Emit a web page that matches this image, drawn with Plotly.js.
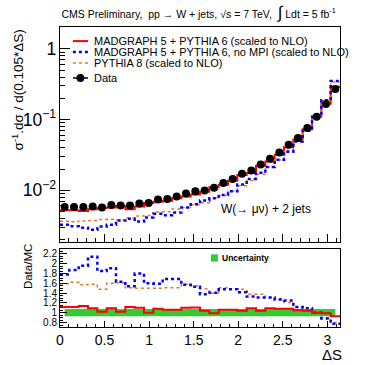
<!DOCTYPE html>
<html>
<head>
<meta charset="utf-8">
<script src="https://cdn.plot.ly/plotly-3.0.1.min.js"></script>
<style>
  html, body { margin: 0; padding: 0; background: #fff; }
  #graph { width: 382px; height: 365px; }
</style>
</head>
<body>
<div id="graph"></div>
<script>
// 30 bins of width pi/30 (~0.105) in delta S
const nBins = 30;
const xMax = Math.PI;

// data, normalised distribution
const dataVals = [0.0058, 0.0058, 0.0058, 0.0059, 0.0057, 0.0062, 0.0061, 0.0061, 0.0065, 0.0066,
                  0.0074, 0.0075, 0.0082, 0.0090, 0.0097, 0.0099, 0.0109, 0.0127, 0.0144, 0.0172,
                  0.0191, 0.0232, 0.0279, 0.0343, 0.044, 0.055, 0.076, 0.110, 0.166, 0.271];

// MADGRAPH 5 + PYTHIA 6
const mgVals = [0.0052, 0.0052, 0.0051, 0.0054, 0.0056, 0.0057, 0.0060, 0.0054, 0.0059, 0.0066,
                0.0069, 0.0071, 0.0077, 0.0082, 0.0087, 0.0095, 0.0110, 0.0120, 0.0136, 0.0165,
                0.0175, 0.0223, 0.0256, 0.0318, 0.0407, 0.0524, 0.0731, 0.110, 0.168, 0.291];

// MADGRAPH 5 + PYTHIA 6, no MPI
const noMpiVals = [0.00325, 0.0031, 0.00296, 0.00276, 0.00308, 0.00325, 0.00374, 0.00396, 0.00361, 0.00413,
                   0.00465, 0.00444, 0.00485, 0.00573, 0.00634, 0.00717, 0.00773, 0.00858, 0.00973, 0.0121,
                   0.0144, 0.0177, 0.0213, 0.0270, 0.0352, 0.0491, 0.0697, 0.110, 0.188, 0.350];

// PYTHIA 8
const py8Vals = [0.00365, 0.00358, 0.00369, 0.00373, 0.00385, 0.00388, 0.00379, 0.00404, 0.00433, 0.0044,
                 0.00493, 0.00497, 0.00543, 0.0057, 0.00626, 0.00664, 0.00779, 0.00841, 0.00973, 0.0116,
                 0.0138, 0.0168, 0.0213, 0.0268, 0.0364, 0.0491, 0.0717, 0.110, 0.187, 0.339];

// Data/MC ratios
const ratioMg = [1.12, 1.12, 1.14, 1.09, 1.02, 1.09, 1.02, 1.12, 1.10, 1.00,
                 1.08, 1.06, 1.06, 1.10, 1.11, 1.04, 0.99, 1.06, 1.06, 1.04,
                 1.09, 1.04, 1.09, 1.08, 1.08, 1.05, 1.04, 1.00, 0.99, 0.93];
const ratioNoMpi = [1.78, 1.87, 1.96, 2.14, 1.85, 1.91, 1.63, 1.54, 1.80, 1.60,
                    1.59, 1.69, 1.69, 1.57, 1.53, 1.38, 1.41, 1.48, 1.48, 1.42,
                    1.33, 1.31, 1.31, 1.27, 1.25, 1.12, 1.09, 1.00, 0.885, 0.775];
const ratioPy8 = [1.59, 1.62, 1.57, 1.58, 1.48, 1.60, 1.61, 1.51, 1.50, 1.50,
                  1.50, 1.51, 1.51, 1.58, 1.55, 1.49, 1.40, 1.51, 1.48, 1.48,
                  1.38, 1.38, 1.31, 1.28, 1.21, 1.12, 1.06, 1.00, 0.89, 0.80];

// uncertainty band around 1
const bandLow = [0.93, 0.93, 0.93, 0.93, 0.93, 0.93, 0.93, 0.93, 0.93, 0.93,
                 0.93, 0.93, 0.93, 0.93, 0.93, 0.93, 0.93, 0.93, 0.93, 0.93,
                 0.93, 0.93, 0.93, 0.93, 0.93, 0.93, 0.93, 0.93, 0.93, 0.93];
const bandHigh = [1.075, 1.075, 1.075, 1.075, 1.075, 1.075, 1.075, 1.075, 1.075, 1.075,
                  1.075, 1.075, 1.075, 1.075, 1.075, 1.075, 1.075, 1.075, 1.075, 1.075,
                  1.075, 1.075, 1.075, 1.075, 1.075, 1.075, 1.075, 1.075, 1.075, 1.075];

const xTickVals = [0, 0.5, 1, 1.5, 2, 2.5, 3];
const xTickText = ["0", "0.5", "1", "1.5", "2", "2.5", "3"];
const rTickVals = [0.8, 1, 1.2, 1.4, 1.6, 1.8, 2, 2.2];
const rTickText = ["0.8", "1", "1.2", "1.4", "1.6", "1.8", "2", "2.2"];

const legendNames = ["MADGRAPH 5 + PYTHIA 6 (scaled to NLO)",
                     "MADGRAPH 5 + PYTHIA 6, no MPI (scaled to NLO)",
                     "PYTHIA 8 (scaled to NLO)",
                     "Data"];

// bin edges and centres
let edges = [];
for (let i = 0; i <= nBins; i++) edges.push(i * xMax / nBins);
let centres = [];
for (let i = 0; i < nBins; i++) centres.push((edges[i] + edges[i + 1]) / 2);

// histogram as a step line over the bin edges
function stepY(vals) {
    return vals.concat([vals[vals.length - 1]]);
}

const font = "Liberation Sans, Arial, sans-serif";
const cRed = "#ff0000", cBlue = "#0000ff", cOrange = "#e07b28", cGreen = "#35c935";

function hist(vals, color, width, dash, xa, ya) {
    return {
        x: edges, y: stepY(vals),
        xaxis: xa, yaxis: ya,
        mode: "lines", type: "scatter",
        line: { shape: "hv", color: color, width: width, dash: dash },
        showlegend: false, hoverinfo: "skip"
    };
}

let traces = [
    // top panel
    hist(mgVals, cRed, 2, "solid", "x", "y"),
    hist(py8Vals, cOrange, 1.5, "dot", "x", "y"),
    hist(noMpiVals, cBlue, 2.5, "dot", "x", "y"),
    {
        x: centres, y: dataVals, xaxis: "x", yaxis: "y",
        mode: "markers", type: "scatter", name: "Data",
        marker: { color: "black", size: 8 }, showlegend: false
    },
    // bottom panel
    {
        x: centres, y: bandLow, xaxis: "x2", yaxis: "y2",
        mode: "lines", type: "scatter", line: { width: 0, color: cGreen },
        showlegend: false, hoverinfo: "skip"
    },
    {
        x: centres, y: bandHigh, xaxis: "x2", yaxis: "y2",
        mode: "lines", type: "scatter", line: { width: 0, color: cGreen },
        fill: "tonexty", fillcolor: cGreen, showlegend: false, hoverinfo: "skip"
    },
    hist(ratioPy8, cOrange, 1.5, "dot", "x2", "y2"),
    hist(ratioNoMpi, cBlue, 2.5, "dot", "x2", "y2"),
    hist(ratioMg, cRed, 2, "solid", "x2", "y2")
];

// legend drawn by hand, ROOT style
const legY = [0.953, 0.917, 0.880, 0.830];
const legColors = [cRed, cBlue, cOrange, "black"];
const legWidths = [2, 2.5, 1.5, 1.5];
const legDash = ["solid", "dot", "dot", "solid"];
let shapes = [];
let annotations = [];
for (let i = 0; i < legendNames.length; i++) {
    shapes.push({
        type: "line", xref: "paper", yref: "paper",
        x0: 0.046, x1: 0.1, y0: legY[i], y1: legY[i],
        line: { color: legColors[i], width: legWidths[i], dash: legDash[i] }
    });
    annotations.push({
        text: legendNames[i], xref: "paper", yref: "paper",
        x: 0.114, y: legY[i], xanchor: "left", yanchor: "middle", showarrow: false,
        font: { family: font, size: 11, color: "black" }
    });
}
// data marker in legend
shapes.push({
    type: "circle", xref: "paper", yref: "paper",
    x0: 0.059, x1: 0.087, y0: legY[3] - 0.013, y1: legY[3] + 0.013,
    fillcolor: "black", line: { color: "black", width: 0 }
});
// uncertainty legend box
shapes.push({
    type: "rect", xref: "paper", yref: "paper",
    x0: 0.539, x1: 0.564, y0: 0.218, y1: 0.242,
    fillcolor: cGreen, line: { width: 0 }
});
annotations.push({
    text: "<b>Uncertainty</b>", xref: "paper", yref: "paper",
    x: 0.571, y: 0.23, xanchor: "left", yanchor: "middle", showarrow: false,
    font: { family: font, size: 8.5, color: "black" }
});

annotations.push(
    {
        text: "σ<sup>-1</sup>.dσ / d(0.105*ΔS)", textangle: -90,
        xref: "paper", yref: "paper", x: -0.15, y: 0.997,
        xanchor: "center", yanchor: "top", showarrow: false,
        font: { family: font, size: 13.5, color: "black" }
    },
    {
        text: "Data/MC", textangle: -90,
        xref: "paper", yref: "paper", x: -0.114, y: 0.2,
        xanchor: "center", yanchor: "middle", showarrow: false,
        font: { family: font, size: 11.5, color: "black" }
    },
    {
        text: "ΔS",
        xref: "paper", yref: "paper", x: 0.97, y: -0.093,
        xanchor: "center", yanchor: "middle", showarrow: false,
        font: { family: font, size: 15, color: "black" }
    },
    {
        text: "W(→ μν) + 2 jets",
        xref: "paper", yref: "paper", x: 0.736, y: 0.392,
        xanchor: "center", yanchor: "middle", showarrow: false,
        font: { family: font, size: 12, color: "black" }
    }
);

const axisBase = {
    showline: true, linecolor: "black", linewidth: 1, mirror: true,
    ticks: "inside", tickcolor: "black", showgrid: false, zeroline: false,
    tickfont: { family: font, size: 14, color: "black" }
};

let layout = {
    width: 382, height: 365,
    margin: { l: 60, r: 42, t: 27, b: 38 },
    paper_bgcolor: "white", plot_bgcolor: "white",
    font: { family: font, color: "black" },
    showlegend: false,
    title: {
        text: "CMS Preliminary,  pp → W + jets, √s = 7 TeV,  <span style='font-size:17px'>∫</span> Ldt = 5 fb<sup>-1</sup>",
        font: { family: font, size: 10.5, color: "black" },
        x: 0.52, xanchor: "center", y: 0.962, yanchor: "middle"
    },
    xaxis: Object.assign({}, axisBase, {
        domain: [0, 1], anchor: "y", range: [0, xMax],
        tickvals: xTickVals, ticktext: xTickText, showticklabels: false, ticklen: 8,
        minor: { dtick: 0.1, ticks: "inside", ticklen: 4, tickcolor: "black" }
    }),
    yaxis: Object.assign({}, axisBase, {
        domain: [0.283, 1], anchor: "x", type: "log",
        range: [Math.log10(0.00185), Math.log10(2.04)],
        dtick: 1, exponentformat: "power", ticklen: 10,
        minor: { ticks: "inside", ticklen: 5, tickcolor: "black" }
    }),
    xaxis2: Object.assign({}, axisBase, {
        domain: [0, 1], anchor: "y2", range: [0, xMax],
        tickvals: xTickVals, ticktext: xTickText, ticklen: 6,
        minor: { dtick: 0.1, ticks: "inside", ticklen: 3, tickcolor: "black" }
    }),
    yaxis2: Object.assign({}, axisBase, {
        domain: [0, 0.26], anchor: "x2", range: [0.71, 2.3],
        tickvals: rTickVals, ticktext: rTickText, ticklen: 7,
        tickfont: { family: font, size: 10, color: "black" },
        minor: { dtick: 0.05, ticks: "inside", ticklen: 3, tickcolor: "black" }
    }),
    shapes: shapes,
    annotations: annotations
};

Plotly.newPlot("graph", traces, layout, { displayModeBar: false, staticPlot: true });
</script>
</body>
</html>
